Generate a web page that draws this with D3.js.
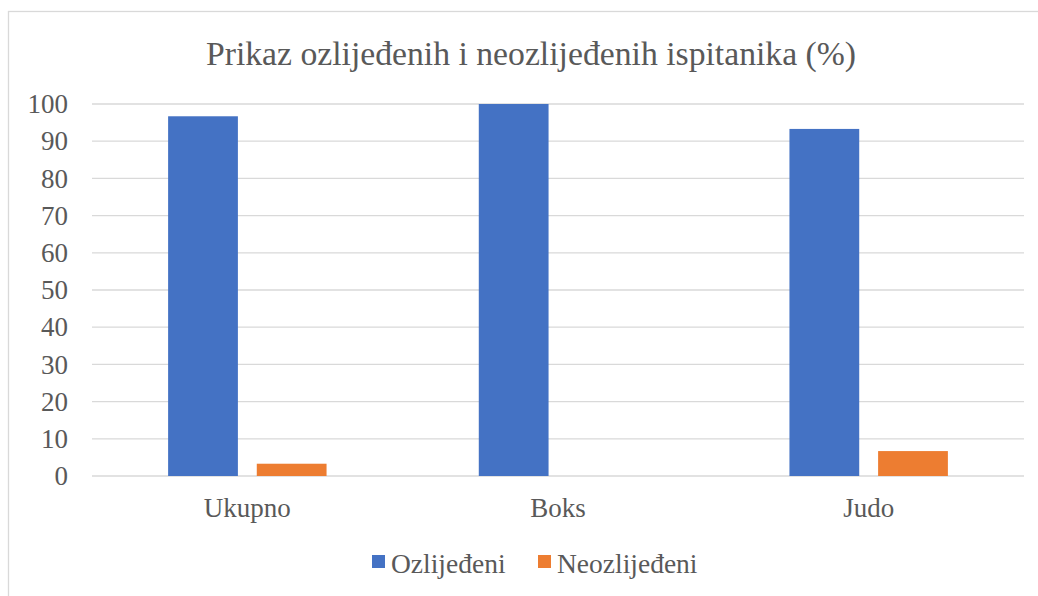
<!DOCTYPE html>
<html>
<head>
<meta charset="utf-8">
<script src="https://cdn.jsdelivr.net/npm/d3@7"></script>
<style>
  body { margin: 0; background: #fff; }
</style>
</head>
<body>
<div id="chart"></div>
<script>
// chart values
const categories = ["Ukupno", "Boks", "Judo"];
const seriesNames = ["Ozlijeđeni", "Neozlijeđeni"];
const ozlijedeni = [96.7, 100, 93.3];
const neozlijedeni = [3.3, 0, 6.7];
const yTicks = [0, 10, 20, 30, 40, 50, 60, 70, 80, 90, 100];
const colors = ["#4472c4", "#ed7d31"];

const FONT = "'Liberation Serif', 'Times New Roman', serif";
const W = 1038, H = 596;
const margin = { top: 104, right: 14, bottom: 120, left: 92 };
const width = W - margin.left - margin.right;
const height = H - margin.top - margin.bottom;

var svg = d3.select("#chart").append("svg")
  .attr("width", W)
  .attr("height", H);

// chart area border
svg.append("rect")
  .attr("x", 8.5).attr("y", 11.5)
  .attr("width", W + 10).attr("height", H + 10)
  .attr("fill", "none")
  .attr("stroke", "#d9d9d9")
  .attr("stroke-width", 1.3);

// title
svg.append("text")
  .attr("x", 531).attr("y", 65)
  .attr("text-anchor", "middle")
  .style("font-family", FONT)
  .style("font-size", "33.7px")
  .style("fill", "#595959")
  .text("Prikaz ozlijeđenih i neozlijeđenih ispitanika (%)");

var g = svg.append("g")
  .attr("transform", "translate(" + margin.left + "," + margin.top + ")");

var y = d3.scaleLinear().domain([0, 100]).range([height, 0]);
var x0 = d3.scaleBand().domain(categories).range([0, width]);
var bw = x0.bandwidth();
var x1 = d3.scaleBand().domain(seriesNames)
  .range([bw * 0.245, bw * 0.755])
  .paddingInner(0.213);

// gridlines
g.append("g").selectAll("line")
  .data(yTicks)
  .enter().append("line")
  .attr("x1", 0).attr("x2", width)
  .attr("y1", function (d) { return y(d); })
  .attr("y2", function (d) { return y(d); })
  .attr("stroke", "#d9d9d9")
  .attr("stroke-width", 1.3);

// Y axis labels
var yAxis = g.append("g")
  .call(d3.axisLeft(y).tickValues(yTicks).tickSize(0).tickPadding(24));
yAxis.attr("font-family", null).attr("font-size", null);
yAxis.select(".domain").remove();
yAxis.selectAll("text")
  .style("font-size", "27px")
  .style("font-family", FONT)
  .style("fill", "#595959");

// X axis labels
var xAxis = g.append("g")
  .attr("transform", "translate(0," + height + ")")
  .call(d3.axisBottom(x0).tickSize(0).tickPadding(22));
xAxis.attr("font-family", null).attr("font-size", null);
xAxis.select(".domain").remove();
xAxis.selectAll("text")
  .style("font-size", "27px")
  .style("font-family", FONT)
  .style("fill", "#595959");

// bars
var rows = categories.map(function (c, i) {
  return { cat: c, values: [ozlijedeni[i], neozlijedeni[i]] };
});

var groups = g.selectAll(".grp")
  .data(rows)
  .enter().append("g")
  .attr("class", "grp")
  .attr("transform", function (d) { return "translate(" + x0(d.cat) + ",0)"; });

groups.selectAll("rect")
  .data(function (d) {
    return d.values.map(function (v, j) { return { key: seriesNames[j], value: v, j: j }; });
  })
  .enter().append("rect")
  .attr("x", function (d) { return x1(d.key); })
  .attr("width", x1.bandwidth())
  .attr("y", function (d) { return y(d.value); })
  .attr("height", function (d) { return height - y(d.value); })
  .attr("fill", function (d) { return colors[d.j]; });

// legend
var legendX = [372, 538];
var legend = svg.append("g").selectAll("g")
  .data(seriesNames)
  .enter().append("g")
  .attr("transform", function (d, i) { return "translate(" + legendX[i] + ",555)"; });

legend.append("rect")
  .attr("width", 13).attr("height", 13)
  .attr("fill", function (d, i) { return colors[i]; });

legend.append("text")
  .attr("x", 19).attr("y", 18)
  .style("font-family", FONT)
  .style("font-size", "27.5px")
  .style("fill", "#595959")
  .text(function (d) { return d; });
</script>
</body>
</html>
